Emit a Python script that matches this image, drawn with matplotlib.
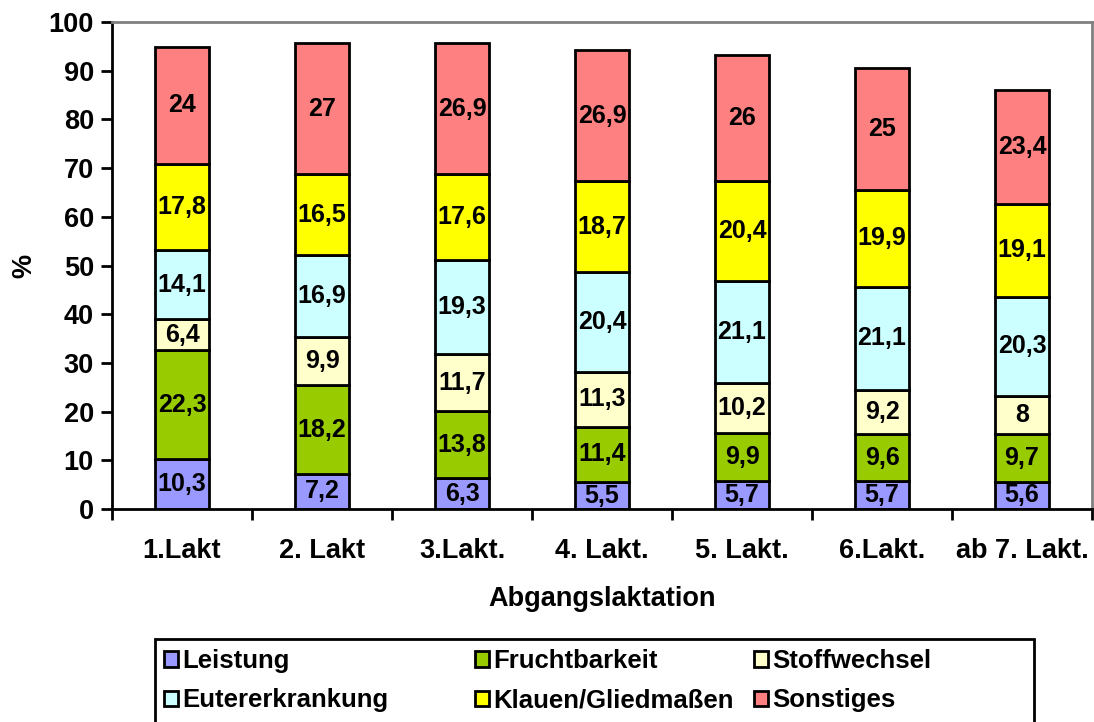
import matplotlib.pyplot as plt
from matplotlib.patches import Rectangle
import numpy as np

plt.rcParams['font.family'] = ['Liberation Sans', 'DejaVu Sans']
plt.rcParams['font.weight'] = 'bold'

kategorien = ['1.Lakt', '2. Lakt', '3.Lakt.', '4. Lakt.', '5. Lakt.', '6.Lakt.', 'ab 7. Lakt.']
leistung = [10.3, 7.2, 6.3, 5.5, 5.7, 5.7, 5.6]
fruchtbarkeit = [22.3, 18.2, 13.8, 11.4, 9.9, 9.6, 9.7]
stoffwechsel = [6.4, 9.9, 11.7, 11.3, 10.2, 9.2, 8]
euter = [14.1, 16.9, 19.3, 20.4, 21.1, 21.1, 20.3]
klauen = [17.8, 16.5, 17.6, 18.7, 20.4, 19.9, 19.1]
sonstiges = [24, 27, 26.9, 26.9, 26, 25, 23.4]

serien = [
    ('Leistung', leistung, '#9999FF'),
    ('Fruchtbarkeit', fruchtbarkeit, '#99CC00'),
    ('Stoffwechsel', stoffwechsel, '#FFFFCC'),
    ('Eutererkrankung', euter, '#CCFFFF'),
    ('Klauen/Gliedmaßen', klauen, '#FFFF00'),
    ('Sonstiges', sonstiges, '#FF8080'),
]

W, H = 1094, 722
fig = plt.figure(figsize=(W / 100, H / 100), dpi=100)
ax = fig.add_axes([112 / W, 1 - 509 / H, (1092 - 112) / W, (509 - 22) / H])

x = np.arange(len(kategorien))
unten = np.zeros(len(kategorien))
handles = []
for name, werte, farbe in serien:
    werte = np.array(werte)
    bars = ax.bar(x, werte, 0.39, bottom=unten, color=farbe, edgecolor='black',
                  linewidth=2, label=name)
    handles.append(bars)
    for xi, b, w in zip(x, unten, werte):
        ax.text(xi, b + w / 2, f'{w:g}'.replace('.', ','), ha='center', va='center',
                fontsize=18, fontweight='bold')
    unten += werte

ax.set_xlim(-0.5, len(kategorien) - 0.5)
ax.set_ylim(0, 100)
ax.set_yticks(range(0, 101, 10))
ax.set_xticks(x)
ax.set_xticklabels(kategorien, fontsize=19.5, fontweight='bold')
ax.tick_params(axis='x', length=0, pad=21)
ax.set_xticks(np.arange(-0.5, len(kategorien)), minor=True)
ax.tick_params(axis='x', which='minor', length=8, width=2, direction='out')
ax.tick_params(axis='y', length=8, width=2, labelsize=19.5, direction='out', pad=5)
for lbl in ax.get_yticklabels():
    lbl.set_fontweight('bold')

ax.spines['left'].set_linewidth(2)
ax.spines['bottom'].set_linewidth(2)
for s in ['top', 'right']:
    ax.spines[s].set_color('#808080')
    ax.spines[s].set_linewidth(2)

ax.set_ylabel('%', fontsize=19.5, fontweight='bold', labelpad=8)
ax.set_xlabel('Abgangslaktation', fontsize=19.5, fontweight='bold', labelpad=16)

# Legendenrahmen (unten abgeschnitten wie im Original)
fig.patches.append(Rectangle((155 / W, -0.05), (1034 - 155) / W, (722 - 639) / H + 0.05,
                             transform=fig.transFigure, fill=False, edgecolor='black',
                             linewidth=2))

# drei Spalten, jeweils zwei Einträge (zeilenweise wie im Original)
spalten_x = [164, 475, 754]
for k, sx in enumerate(spalten_x):
    hs = [handles[k], handles[k + 3]]
    leg = fig.legend(hs, [serien[k][0], serien[k + 3][0]], loc='upper left',
                     bbox_to_anchor=(sx / W, 1 - 649 / H), fontsize=18.5, frameon=False,
                     handlelength=0.55, handleheight=0.55, handletextpad=0.15,
                     borderpad=0, borderaxespad=0, labelspacing=0.6)
    for t in leg.get_texts():
        t.set_fontweight('bold')

fig.savefig('out.png', dpi=100)
